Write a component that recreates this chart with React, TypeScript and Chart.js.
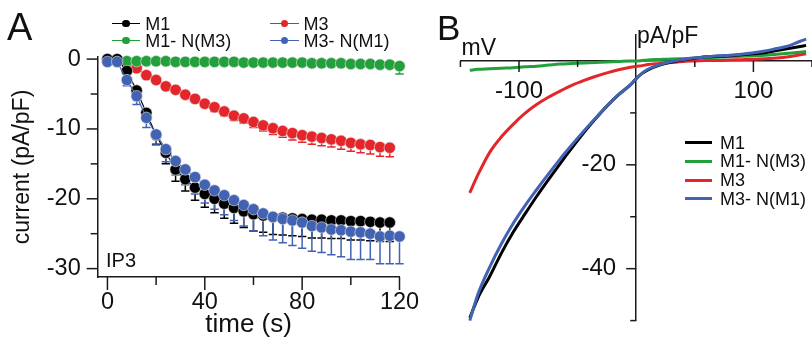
import React, { useEffect, useRef } from 'react';
import { Chart, registerables } from 'chart.js';

Chart.register(...registerables);

const FONT = "'Liberation Sans', Arial, Helvetica, sans-serif";
Chart.defaults.font.family = FONT;

const BLACK = '#000000';
const RED = '#e4262b';
const GREEN = '#22a03c';
const BLUE = '#4262b4';
const AXIS = '#1a1a1a';
const TEXT = '#111111';

// ---------- Panel A: current vs time ----------
const timeS = [0, 4, 8, 12, 16, 20, 24, 28, 32, 36, 40, 44, 48, 52, 56, 60, 64, 68, 72, 76, 80, 84, 88, 92, 96, 100, 104, 108, 112, 116, 120];

const m1Current = [0, 0, -1.7, -4.5, -7.7, -10.9, -13.4, -15.8, -17.2, -18.4, -19.3, -20.0, -20.7, -21.3, -21.8, -22.2, -22.4, -22.6, -22.7, -22.8, -22.9, -23.0, -23.0, -23.1, -23.1, -23.2, -23.2, -23.3, -23.4, -23.4];
const m1Sem = [0, 0.1, 0.4, 0.8, 1.1, 1.3, 1.6, 1.7, 1.7, 1.8, 1.9, 2.0, 2.1, 2.2, 2.3, 2.4, 2.4, 2.5, 2.5, 2.5, 2.5, 2.6, 2.6, 2.6, 2.6, 2.7, 2.7, 2.7, 2.7, 2.7];

const m3Current = [0, -0.2, -0.7, -1.3, -2.3, -3.0, -3.9, -4.4, -5.1, -5.7, -6.4, -6.9, -7.5, -8.1, -8.5, -9.0, -9.5, -9.9, -10.3, -10.6, -10.9, -11.1, -11.3, -11.5, -11.7, -12.0, -12.2, -12.3, -12.6, -12.7];
const m3Sem = [0, 0.1, 0.1, 0.2, 0.2, 0.3, 0.3, 0.4, 0.4, 0.5, 0.5, 0.6, 0.6, 0.7, 0.7, 0.8, 0.8, 0.9, 0.9, 1.0, 1.0, 1.1, 1.1, 1.1, 1.2, 1.2, 1.2, 1.3, 1.3, 1.3];

const m1nm3Current = [-0.2, -0.3, -0.3, -0.3, -0.3, -0.3, -0.3, -0.4, -0.4, -0.4, -0.4, -0.4, -0.4, -0.4, -0.5, -0.5, -0.5, -0.5, -0.5, -0.5, -0.5, -0.6, -0.6, -0.6, -0.6, -0.7, -0.7, -0.7, -0.8, -0.8, -1.0];
const m1nm3Sem = [0.1, 0.1, 0.1, 0.1, 0.1, 0.1, 0.1, 0.1, 0.1, 0.1, 0.1, 0.1, 0.1, 0.1, 0.2, 0.2, 0.2, 0.2, 0.2, 0.2, 0.2, 0.2, 0.2, 0.2, 0.2, 0.2, 0.3, 0.3, 0.3, 0.3, 1.15];

const m3nm1Current = [-0.4, -0.4, -3.0, -5.3, -8.4, -10.8, -12.9, -14.6, -15.8, -16.9, -18.0, -18.8, -19.5, -20.2, -20.9, -21.5, -22.1, -22.6, -22.9, -23.1, -23.4, -23.9, -24.1, -24.4, -24.5, -24.7, -24.8, -25.0, -25.4, -25.3, -25.4];
const m3nm1Sem = [0.2, 0.3, 0.8, 1.2, 1.4, 1.5, 1.8, 2.0, 2.2, 2.4, 2.6, 2.7, 2.8, 2.9, 3.0, 3.1, 3.2, 3.3, 3.4, 3.6, 3.7, 3.6, 3.6, 3.6, 3.8, 4.0, 3.9, 3.7, 3.9, 4.0, 3.9];

const xTicksA = [0, 20, 40, 60, 80, 100, 120];
const xLabelsA = [0, 40, 80, 120];
const yTicksA = [0, -5, -10, -15, -20, -25, -30];
const yLabelsA = [0, -10, -20, -30];

// ---------- Panel B: I-V relation ----------
const voltageMv = [-142, -135, -125, -115, -105, -95, -85, -75, -65, -55, -45, -35, -25, -15, -5, 0, 5, 10, 20, 30, 40, 50, 60, 70, 80, 90, 100, 110, 120, 130, 140, 145];
const ivM1 = [-49.5, -45.6, -41.5, -37.0, -33.0, -29.5, -26.1, -22.9, -19.8, -16.8, -13.9, -11.2, -8.7, -6.5, -4.6, -3.4, -2.4, -1.7, -0.8, -0.2, 0.2, 0.5, 0.8, 0.9, 1.0, 1.2, 1.4, 1.6, 2.0, 2.4, 2.8, 3.0];
const ivM1nM3 = [-1.8, -1.6, -1.5, -1.4, -1.3, -1.1, -1.0, -0.8, -0.6, -0.5, -0.4, -0.3, -0.2, -0.1, 0.0, 0.0, 0.1, 0.2, 0.3, 0.4, 0.45, 0.5, 0.6, 0.7, 0.8, 0.9, 1.0, 1.1, 1.3, 1.5, 1.7, 1.8];
const ivM3 = [-25.4, -21.9, -17.6, -14.6, -12.2, -10.1, -8.4, -7.0, -5.8, -4.7, -3.8, -3.0, -2.3, -1.7, -1.2, -1.0, -0.9, -0.7, -0.5, -0.3, -0.1, 0.0, 0.1, 0.1, 0.2, 0.25, 0.35, 0.45, 0.55, 0.8, 1.2, 1.4];
const ivM3nM1 = [-50.0, -44.9, -39.7, -35.2, -31.3, -27.9, -24.8, -21.8, -18.9, -16.2, -13.6, -11.1, -8.7, -6.5, -4.6, -3.4, -2.4, -1.6, -0.7, -0.1, 0.3, 0.6, 0.8, 1.0, 1.1, 1.3, 1.6, 1.9, 2.4, 2.9, 3.8, 4.2];

const xTicksB = [-150, -100, -50, 50, 100, 150];
const xLabelsB = [-100, 100];
const yTicksB = [-50, -40, -30, -20, -10];
const yLabelsB = [-20, -40];

const toPoints = (xs: number[], ys: number[]) => ys.map((y, i) => ({ x: xs[i], y }));

type TickAxis = { id: string; cross: string; at: number | 'area'; values: number[]; major: number[]; majorLen: number; minorLen: number };

function makeTickPlugin(axes: TickAxis[]) {
  return {
    id: 'tickMarks',
    afterDraw(chart: any) {
      const ctx = chart.ctx;
      ctx.save();
      ctx.strokeStyle = AXIS;
      ctx.lineWidth = 1.5;
      for (const ax of axes) {
        const s = chart.scales[ax.id];
        const other = chart.scales[ax.cross];
        const horiz = s.isHorizontal();
        const base = ax.at === 'area'
          ? (horiz ? chart.chartArea.bottom : chart.chartArea.left)
          : other.getPixelForValue(ax.at);
        for (const v of ax.values) {
          const len = ax.major.includes(v) ? ax.majorLen : ax.minorLen;
          const p = s.getPixelForValue(v);
          ctx.beginPath();
          if (horiz) {
            ctx.moveTo(p, base);
            ctx.lineTo(p, base + len);
          } else {
            ctx.moveTo(base, p);
            ctx.lineTo(base - len, p);
          }
          ctx.stroke();
        }
      }
      ctx.restore();
    },
  };
}

type ErrSeries = { datasetIndex: number; sem: number[]; color: string };

function makeErrorPlugin(series: ErrSeries[]) {
  return {
    id: 'errorBars',
    beforeDatasetsDraw(chart: any) {
      const ctx = chart.ctx;
      const ys = chart.scales.y;
      for (const es of series) {
        const meta = chart.getDatasetMeta(es.datasetIndex);
        const data = chart.data.datasets[es.datasetIndex].data as { x: number; y: number }[];
        ctx.save();
        ctx.strokeStyle = es.color;
        ctx.lineWidth = 1.5;
        meta.data.forEach((pt: any, j: number) => {
          const e = es.sem[j];
          if (!e) return;
          const yEnd = ys.getPixelForValue(data[j].y - e);
          ctx.beginPath();
          ctx.moveTo(pt.x, pt.y);
          ctx.lineTo(pt.x, yEnd);
          ctx.moveTo(pt.x - 4.2, yEnd);
          ctx.lineTo(pt.x + 4.2, yEnd);
          ctx.stroke();
        });
        ctx.restore();
      }
    },
  };
}

function setTicks(values: number[]) {
  return (scale: any) => {
    scale.ticks = values.map((v) => ({ value: v }));
  };
}

// pad: trailing spaces that keep a label clear of an axis drawn through the plot
function labelFor(major: number[], pad = '') {
  return (v: any) => (major.includes(Number(v)) ? String(v) + pad : '');
}

function pointDataset(label: string, xs: number[], ys: number[], color: string, order: number) {
  return {
    label,
    data: toPoints(xs, ys),
    borderColor: color,
    backgroundColor: color,
    borderWidth: 1.2,
    pointRadius: 5.7,
    pointBackgroundColor: color,
    pointBorderColor: 'rgba(225,225,225,0.9)',
    pointBorderWidth: 0.7,
    tension: 0,
    clip: false as const,
    order,
  };
}

function lineDataset(label: string, xs: number[], ys: number[], color: string, order: number) {
  return {
    label,
    data: toPoints(xs, ys),
    borderColor: color,
    backgroundColor: color,
    borderWidth: 3,
    pointRadius: 0,
    cubicInterpolationMode: 'monotone' as const,
    clip: false as const,
    order,
  };
}

const legendA = [
  { label: 'M1', color: BLACK, lx: 111.7, ly: 23.3 },
  { label: 'M3', color: RED, lx: 270, ly: 23.3 },
  { label: 'M1- N(M3)', color: GREEN, lx: 111.7, ly: 40.7 },
  { label: 'M3- N(M1)', color: BLUE, lx: 270, ly: 40.7 },
];

const legendB = [
  { label: 'M1', color: BLACK, ly: 142.7 },
  { label: 'M1- N(M3)', color: GREEN, ly: 161 },
  { label: 'M3', color: RED, ly: 180 },
  { label: 'M3- N(M1)', color: BLUE, ly: 198.3 },
];

const abs = (o: React.CSSProperties): React.CSSProperties => ({ position: 'absolute', ...o });

export default function App() {
  const aRef = useRef<HTMLCanvasElement>(null);
  const bRef = useRef<HTMLCanvasElement>(null);

  useEffect(() => {
    const chartA = new Chart(aRef.current as HTMLCanvasElement, {
      type: 'line',
      data: {
        datasets: [
          pointDataset('M3- N(M1)', timeS, m3nm1Current, BLUE, 0),
          pointDataset('M1', timeS, m1Current, BLACK, 1),
          pointDataset('M1- N(M3)', timeS, m1nm3Current, GREEN, 2),
          pointDataset('M3', timeS, m3Current, RED, 3),
        ],
      },
      options: {
        responsive: false,
        animation: false,
        events: [],
        layout: { padding: { left: 0, top: 57, right: 20.5, bottom: 0 } },
        plugins: { legend: { display: false }, tooltip: { enabled: false } },
        scales: {
          x: {
            type: 'linear',
            min: -4,
            max: 120,
            afterBuildTicks: setTicks(xTicksA),
            afterFit: (s: any) => { s.height = 66; },
            grid: { display: false, drawTicks: true, tickLength: 11 },
            border: { display: true, color: AXIS, width: 1.5 },
            ticks: { font: { size: 23.5 }, color: TEXT, padding: 0, autoSkip: false, maxRotation: 0, callback: labelFor(xLabelsA) },
            title: { display: true, text: 'time (s)', color: TEXT, font: { size: 26 }, padding: { top: 0, bottom: 3 } },
          },
          y: {
            type: 'linear',
            min: -31.2,
            max: 0.3,
            afterBuildTicks: setTicks(yTicksA),
            afterFit: (s: any) => { s.width = 97.7; },
            grid: { display: false, drawTicks: true, tickLength: 11 },
            border: { display: true, color: AXIS, width: 1.5 },
            ticks: { font: { size: 23.5 }, color: TEXT, padding: 6, autoSkip: false, callback: labelFor(yLabelsA) },
            title: { display: true, text: 'current (pA/pF)', color: TEXT, font: { size: 23 }, padding: { top: 9, bottom: 0 } },
          },
        },
      } as any,
      plugins: [
        makeErrorPlugin([
          { datasetIndex: 3, sem: m3Sem, color: RED },
          { datasetIndex: 2, sem: m1nm3Sem, color: GREEN },
          { datasetIndex: 1, sem: m1Sem, color: BLACK },
          { datasetIndex: 0, sem: m3nm1Sem, color: BLUE },
        ]),
        makeTickPlugin([
          { id: 'x', cross: 'y', at: 'area', values: xTicksA, major: xLabelsA, majorLen: 13, minorLen: 8 },
          { id: 'y', cross: 'x', at: 'area', values: yTicksA, major: yLabelsA, majorLen: 11, minorLen: 7 },
        ]),
      ],
    });

    const chartB = new Chart(bRef.current as HTMLCanvasElement, {
      type: 'line',
      data: {
        datasets: [
          lineDataset('M3- N(M1)', voltageMv, ivM3nM1, BLUE, 0),
          lineDataset('M1', voltageMv, ivM1, BLACK, 1),
          lineDataset('M1- N(M3)', voltageMv, ivM1nM3, GREEN, 2),
          lineDataset('M3', voltageMv, ivM3, RED, 3),
        ],
      },
      options: {
        responsive: false,
        animation: false,
        events: [],
        layout: { padding: { left: 40.4, top: 35, right: 8, bottom: 21.3 } },
        plugins: { legend: { display: false }, tooltip: { enabled: false } },
        scales: {
          x: {
            type: 'linear',
            position: { y: 0 },
            min: -150,
            max: 150,
            afterBuildTicks: setTicks(xTicksB),
            grid: { display: false, drawTicks: true, tickLength: 11 },
            border: { display: true, color: AXIS, width: 1.5 },
            ticks: { font: { size: 24 }, color: TEXT, padding: 5, autoSkip: false, maxRotation: 0, callback: labelFor(xLabelsB) },
          },
          y: {
            type: 'linear',
            position: { x: 0 },
            min: -50,
            max: 5,
            afterBuildTicks: setTicks(yTicksB),
            grid: { display: false, drawTicks: true, tickLength: 10 },
            border: { display: true, color: AXIS, width: 1.5 },
            ticks: { font: { size: 24 }, color: TEXT, padding: 8, autoSkip: false, callback: labelFor(yLabelsB, '   ') },
          },
        },
      } as any,
      plugins: [
        makeTickPlugin([
          { id: 'x', cross: 'y', at: 0, values: xTicksB, major: xLabelsB, majorLen: 11, minorLen: 6 },
          { id: 'y', cross: 'x', at: 0, values: yTicksB, major: yLabelsB, majorLen: 10, minorLen: 6 },
        ]),
      ],
    });

    return () => {
      chartA.destroy();
      chartB.destroy();
    };
  }, []);

  const textBase: React.CSSProperties = { fontFamily: FONT, color: TEXT, whiteSpace: 'nowrap', lineHeight: '20px', fontSize: 18 };

  return (
    <div style={{ position: 'fixed', left: 0, top: 0, width: 812, height: 343, overflow: 'hidden', background: '#fff' }}>
      <canvas ref={aRef} width={420} height={343} style={abs({ left: 0, top: 0, width: 420, height: 343 })} />
      <canvas ref={bRef} width={400} height={343} style={abs({ left: 420, top: 0, width: 400, height: 343 })} />

      <div style={abs({ left: 7, top: 7.8, fontFamily: FONT, fontSize: 38, lineHeight: 1, color: TEXT })}>A</div>
      <div style={abs({ left: 437, top: 10.4, fontFamily: FONT, fontSize: 35, lineHeight: 1, color: TEXT })}>B</div>
      <div style={abs({ left: 461.5, top: 35.5, fontFamily: FONT, fontSize: 23, lineHeight: 1, color: TEXT })}>mV</div>
      <div style={abs({ left: 637, top: 24, fontFamily: FONT, fontSize: 23, lineHeight: 1, color: TEXT })}>pA/pF</div>
      <div style={abs({ left: 106, top: 250, fontFamily: FONT, fontSize: 20, lineHeight: 1, color: TEXT })}>IP3</div>

      {legendA.map((it) => (
        <React.Fragment key={'a' + it.label}>
          <div style={abs({ left: it.lx, top: it.ly - 0.75, width: 28.5, height: 1.5, background: it.color })} />
          <div style={abs({ left: it.lx + 14.3 - 3.8, top: it.ly - 3.8, width: 7.6, height: 7.6, borderRadius: '50%', background: it.color })} />
          <div style={abs({ ...textBase, left: it.lx + 33.5, top: it.ly - 9.8 })}>{it.label}</div>
        </React.Fragment>
      ))}

      {legendB.map((it) => (
        <React.Fragment key={'b' + it.label}>
          <div style={abs({ left: 685, top: it.ly - 1.5, width: 27, height: 3, background: it.color })} />
          <div style={abs({ ...textBase, left: 720, top: it.ly - 9.8 })}>{it.label}</div>
        </React.Fragment>
      ))}
    </div>
  );
}
